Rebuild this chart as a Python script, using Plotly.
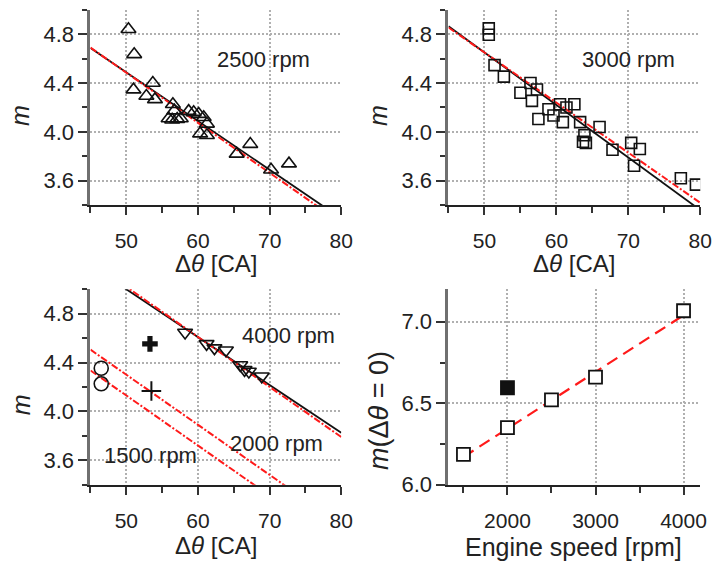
import numpy as np
import plotly.graph_objects as go

# ---------------- data ----------------
# Panel 1: 2500 rpm (open triangles)
p1_dtheta = [50.3, 51.1, 51.0, 52.8, 53.7, 54.0, 56.5, 56.7, 55.9, 56.4, 57.1, 57.6,
             58.7, 59.4, 60.1, 60.8, 61.25, 60.3, 61.25, 65.4, 67.3, 70.2, 72.7]
p1_m = [4.84, 4.635, 4.346, 4.294, 4.40, 4.266, 4.226, 4.174, 4.11, 4.10, 4.105, 4.11,
        4.17, 4.16, 4.146, 4.12, 4.066, 3.986, 3.973, 3.82, 3.90, 3.69, 3.74]

# Panel 2: 3000 rpm (open squares)
p2_dtheta = [50.6, 50.6, 51.4, 52.7, 55.0, 56.4, 57.3, 56.6, 57.5, 58.9, 59.6, 60.5, 61.4,
             60.9, 62.5, 63.3, 63.9, 63.7, 64.1, 66.0, 67.8, 70.4, 70.8, 71.6, 77.3, 79.4]
p2_m = [4.848, 4.795, 4.547, 4.453, 4.32, 4.40, 4.347, 4.254, 4.106, 4.186, 4.134, 4.226, 4.20,
        4.08, 4.226, 4.08, 3.973, 3.92, 3.91, 4.04, 3.854, 3.91, 3.723, 3.86, 3.62, 3.568]

# Panel 3: 4000 rpm (down triangles), 1500 rpm (circles), 2000 rpm (crosses)
p3_4000_dtheta = [58.2, 61.2, 62.3, 63.9, 65.9, 66.5, 67.1, 68.9]
p3_4000_m = [4.646, 4.553, 4.518, 4.50, 4.38, 4.34, 4.327, 4.287]
p3_1500_dtheta = [46.5, 46.5]
p3_1500_m = [4.353, 4.226]
p3_2000_dtheta = [53.5]
p3_2000_m = [4.167]
p3_2000b_dtheta = [53.3]
p3_2000b_m = [4.553]

# Common-slope fits (red dash-dot): m = m0 - slope * dtheta
common_slope = 0.041
common_speeds = [1500, 2000, 2500, 3000, 4000]
common_m0 = [6.18, 6.35, 6.535, 6.70, 7.07]

# Individual fits (black solid): intercept, slope
indiv_speeds = [2500, 3000, 4000]
indiv_m0 = [6.483, 6.80, 6.96]
indiv_slope = [0.0399, 0.0430, 0.0392]

# Panel 4: m(dtheta = 0) versus engine speed
p4_speed = [1500, 2000, 2500, 3000, 4000]
p4_m0 = [6.186, 6.35, 6.52, 6.66, 7.068]
p4_filled_speed = [2000]
p4_filled_m0 = [6.595]
p4_fit_a = 5.648
p4_fit_b = 0.000348

dtheta_span = np.array([45.0, 80.0])
speed_span = np.array([1500.0, 4000.0])

# ---------------- figure ----------------
FONT = "Liberation Sans, Arial, sans-serif"
RED = "#ff1a1a"
BLK = "#111111"

fig = go.Figure()


def add(trace, n):
    xa = "x" if n == 1 else f"x{n}"
    ya = "y" if n == 1 else f"y{n}"
    trace.update(xaxis=xa, yaxis=ya, showlegend=False)
    fig.add_trace(trace)


def cm0(speed):
    return common_m0[common_speeds.index(speed)]


def im(speed):
    i = indiv_speeds.index(speed)
    return indiv_m0[i], indiv_slope[i]


red_line = dict(color=RED, width=2, dash="7px,2px,2px,2px")
blk_line = dict(color=BLK, width=1.8)

# Panel 1
a, b = im(2500)
add(go.Scatter(x=dtheta_span, y=a - b * dtheta_span, mode="lines", line=blk_line), 1)
add(go.Scatter(x=dtheta_span, y=cm0(2500) - common_slope * dtheta_span, mode="lines", line=red_line), 1)
add(go.Scatter(x=p1_dtheta, y=p1_m, mode="markers",
               marker=dict(symbol="triangle-up-open", size=13, color=BLK, line=dict(width=1.6))), 1)

# Panel 2
a, b = im(3000)
add(go.Scatter(x=dtheta_span, y=a - b * dtheta_span, mode="lines", line=blk_line), 2)
add(go.Scatter(x=dtheta_span, y=cm0(3000) - common_slope * dtheta_span, mode="lines", line=red_line), 2)
add(go.Scatter(x=p2_dtheta, y=p2_m, mode="markers",
               marker=dict(symbol="square-open", size=11, color=BLK, line=dict(width=1.6))), 2)

# Panel 3
a, b = im(4000)
add(go.Scatter(x=dtheta_span, y=a - b * dtheta_span, mode="lines", line=blk_line), 3)
for sp in (1500, 2000, 4000):
    add(go.Scatter(x=dtheta_span, y=cm0(sp) - common_slope * dtheta_span, mode="lines", line=red_line), 3)
add(go.Scatter(x=p3_4000_dtheta, y=p3_4000_m, mode="markers",
               marker=dict(symbol="triangle-down-open", size=13, color=BLK, line=dict(width=1.6))), 3)
add(go.Scatter(x=p3_1500_dtheta, y=p3_1500_m, mode="markers",
               marker=dict(symbol="circle-open", size=14, color=BLK, line=dict(width=1.6))), 3)
add(go.Scatter(x=p3_2000_dtheta, y=p3_2000_m, mode="markers",
               marker=dict(symbol="cross-thin-open", size=14, color=BLK, line=dict(width=2, color=BLK))), 3)
add(go.Scatter(x=p3_2000b_dtheta, y=p3_2000b_m, mode="markers",
               marker=dict(symbol="cross", size=13, color=BLK, line=dict(width=0))), 3)

# Panel 4
add(go.Scatter(x=speed_span, y=p4_fit_a + p4_fit_b * speed_span, mode="lines",
               line=dict(color=RED, width=2.2, dash="12px,7px")), 4)
add(go.Scatter(x=p4_speed, y=p4_m0, mode="markers",
               marker=dict(symbol="square", size=13, color="white", line=dict(width=1.8, color=BLK))), 4)
add(go.Scatter(x=p4_filled_speed, y=p4_filled_m0, mode="markers",
               marker=dict(symbol="square", size=13, color=BLK, line=dict(width=1.8, color=BLK))), 4)

# ---------------- axes ----------------
W, H = 728, 568
xdom_left = [92 / W, 347 / W]
xdom_right = [456 / W, 712 / W]
ydom_top = [1 - 210 / H, 1 - 10 / H]
ydom_bot = [1 - 496 / H, 1 - 296 / H]

tickfont = dict(family=FONT, size=22, color="#222")
xtickfont = dict(family=FONT, size=21, color="#222")
grid = dict(showgrid=True, gridcolor="#b0b0b0", gridwidth=1.5, griddash="2px,2px", zeroline=False)


def xax(dom, anchor, rng, dtick, tick0, mdtick, mtick0):
    return dict(domain=dom, anchor=anchor, range=rng, showline=True, linecolor="#222", linewidth=2,
                ticks="outside", ticklen=8, tickwidth=2, tickcolor="#333", dtick=dtick, tick0=tick0,
                tickfont=xtickfont, ticklabelstandoff=8,
                minor=dict(ticks="outside", ticklen=6, tickwidth=2, tickcolor="#333",
                           dtick=mdtick, tick0=mtick0, showgrid=False),
                **grid)


def yax(dom, anchor, rng, dtick, tick0, mdtick, mtick0, fmt):
    return dict(domain=dom, anchor=anchor, range=rng, showline=True, linecolor="#707070", linewidth=3,
                ticks="outside", ticklen=9, tickwidth=2, tickcolor="#333", dtick=dtick, tick0=tick0,
                tickformat=fmt, tickfont=tickfont,
                minor=dict(ticks="outside", ticklen=5, tickwidth=2, tickcolor="#333",
                           dtick=mdtick, tick0=mtick0, showgrid=False),
                **grid)


fig.update_layout(
    width=W, height=H, margin=dict(l=0, r=0, t=0, b=0),
    paper_bgcolor="white", plot_bgcolor="white", showlegend=False,
    xaxis=xax(xdom_left, "y", [45, 80], 10, 50, 5, 45),
    yaxis=yax(ydom_top, "x", [3.4, 5.0], 0.4, 3.6, 0.2, 3.4, ".1f"),
    xaxis2=xax(xdom_right, "y2", [45, 80], 10, 50, 5, 45),
    yaxis2=yax(ydom_top, "x2", [3.4, 5.0], 0.4, 3.6, 0.2, 3.4, ".1f"),
    xaxis3=xax(xdom_left, "y3", [45, 80], 10, 50, 5, 45),
    yaxis3=yax(ydom_bot, "x3", [3.4, 5.0], 0.4, 3.6, 0.2, 3.4, ".1f"),
    xaxis4=xax(xdom_right, "y4", [1330, 4190], 1000, 2000, 500, 1500),
    yaxis4=yax(ydom_bot, "x4", [6.0, 7.2], 0.5, 6.0, 0.25, 6.0, ".1f"),
)

# ---------------- text ----------------
ann = []


def txt(x, y, s, size, xref="paper", yref="paper", angle=0, yanchor="middle", yshift=0):
    ann.append(dict(x=x, y=y, xref=xref, yref=yref, text=s, showarrow=False, textangle=angle,
                    xanchor="center", yanchor=yanchor, borderpad=0, yshift=yshift,
                    font=dict(family=FONT, size=size, color="#222")))


# axis titles
dt_title = "Δ<i>θ</i> [CA]"
txt(220 / W, 1 - 255 / H, dt_title, 24, yanchor="top")
txt(584 / W, 1 - 255 / H, dt_title, 24, yanchor="top")
txt(220 / W, 0.0, dt_title, 24, yanchor="bottom", yshift=-5)
txt(583 / W, 0.0, "Engine speed [rpm]", 25, yanchor="bottom", yshift=-7)
txt(21 / W, 1 - 118 / H, "<i>m</i>", 25, angle=-90)
txt(385 / W, 1 - 118 / H, "<i>m</i>", 25, angle=-90)
txt(21 / W, 1 - 414 / H, "<i>m</i>", 25, angle=-90)
txt(386 / W, 1 - 420 / H, "<i>m</i>(Δ<i>θ</i> = 0)", 27, angle=-90)

# rpm labels
txt(69.2, 4.59, "2500 rpm", 22, "x", "y")
txt(70.0, 4.59, "3000 rpm", 22, "x2", "y2")
txt(72.7, 4.62, "4000 rpm", 22, "x3", "y3")
txt(71.0, 3.74, "2000 rpm", 22, "x3", "y3")
txt(53.4, 3.635, "1500 rpm", 22, "x3", "y3")

fig.update_layout(annotations=ann)

fig.write_html("out.html")
